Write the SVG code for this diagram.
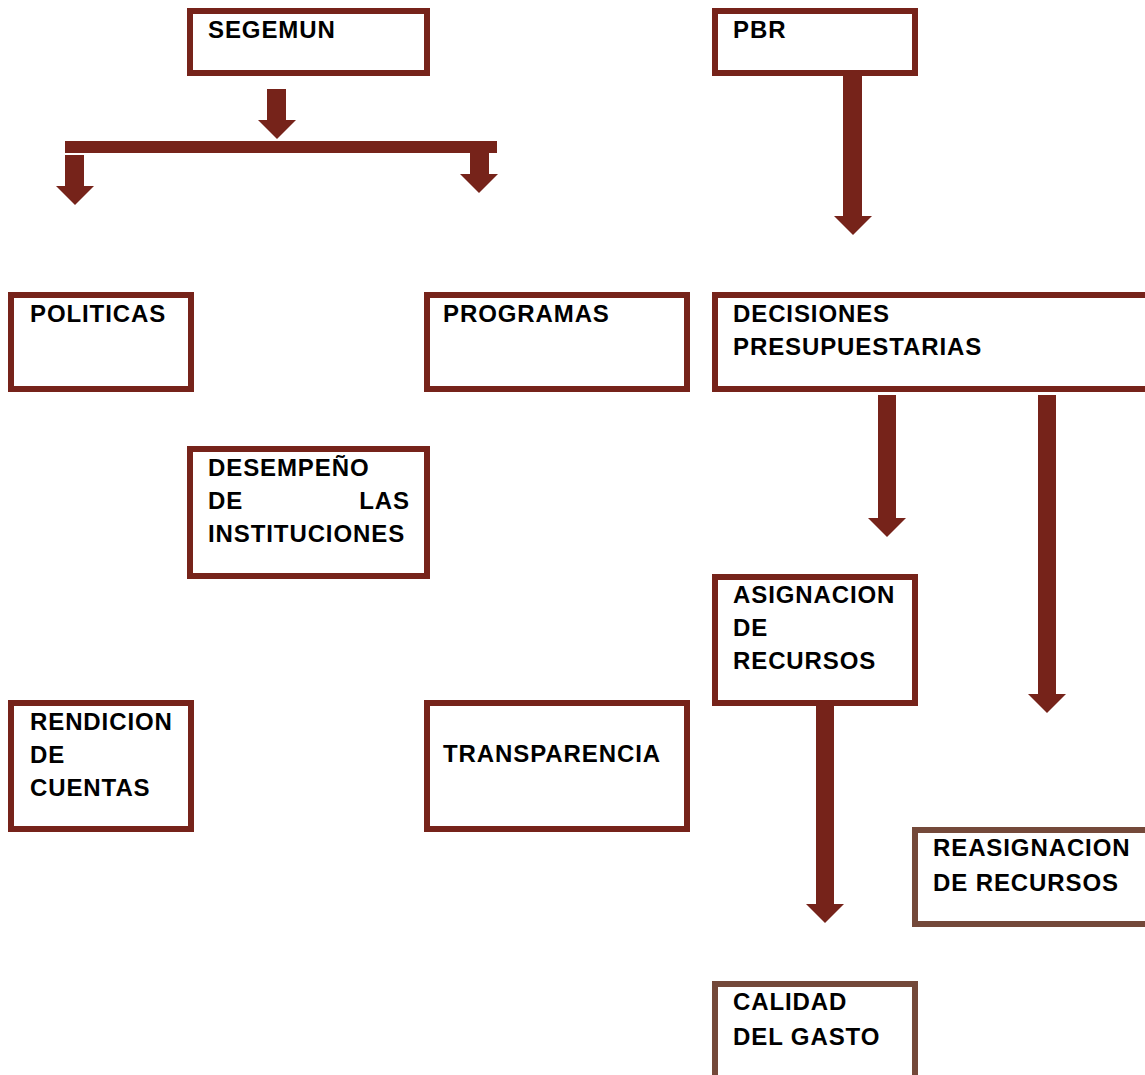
<svg xmlns="http://www.w3.org/2000/svg" width="1145" height="1075" viewBox="0 0 1145 1075">
<style>
.box{fill:#ffffff;stroke:#76231a;stroke-width:6}
.box2{fill:#ffffff;stroke:#74493a;stroke-width:6}
.arr{fill:#76231a}
.t{font-family:"Liberation Sans",Arial,sans-serif;font-weight:bold;font-size:24px;letter-spacing:0.9px;fill:#000}
</style>
<rect width="1145" height="1075" fill="#ffffff"/>
<g id="connectors">
<polygon class="arr" points="267,89 286,89 286,120 296,120 277,139 258,120 267,120"/>
<rect class="arr" x="65" y="141" width="432" height="12"/>
<polygon class="arr" points="65,155 84,155 84,186 94,186 75,205 56,186 65,186"/>
<polygon class="arr" points="470,153 489,153 489,174 498,174 479,193 460,174 470,174"/>
<polygon class="arr" points="843,76 862,76 862,216 872,216 853,235 834,216 843,216"/>
<polygon class="arr" points="878,395 896,395 896,518 906,518 887,537 868,518 878,518"/>
<polygon class="arr" points="1038,395 1056,395 1056,694 1066,694 1047,713 1028,694 1038,694"/>
<polygon class="arr" points="816,706 834,706 834,904 844,904 825,923 806,904 816,904"/>
</g>
<g id="segemun">
<rect class="box" x="190" y="11" width="237" height="62"/>
<text class="t" x="208" y="38">SEGEMUN</text>
</g>
<g id="pbr">
<rect class="box" x="715" y="11" width="200" height="62"/>
<text class="t" x="733" y="38">PBR</text>
</g>
<g id="politicas">
<rect class="box" x="11" y="295" width="180" height="94"/>
<text class="t" x="30" y="322">POLITICAS</text>
</g>
<g id="programas">
<rect class="box" x="427" y="295" width="260" height="94"/>
<text class="t" x="443" y="322">PROGRAMAS</text>
</g>
<g id="decisiones">
<rect class="box" x="715" y="295" width="440" height="94"/>
<text class="t" x="733" y="322">DECISIONES</text>
<text class="t" x="733" y="355">PRESUPUESTARIAS</text>
</g>
<g id="desempeno">
<rect class="box" x="190" y="449" width="237" height="127"/>
<text class="t" x="208" y="476">DESEMPEÑO</text>
<text class="t" x="208" y="509">DE</text>
<text class="t" x="410" y="509" text-anchor="end">LAS</text>
<text class="t" x="208" y="542">INSTITUCIONES</text>
</g>
<g id="asignacion">
<rect class="box" x="715" y="577" width="200" height="126"/>
<text class="t" x="733" y="603">ASIGNACION</text>
<text class="t" x="733" y="636">DE</text>
<text class="t" x="733" y="669">RECURSOS</text>
</g>
<g id="rendicion">
<rect class="box" x="11" y="703" width="180" height="126"/>
<text class="t" x="30" y="730">RENDICION</text>
<text class="t" x="30" y="763">DE</text>
<text class="t" x="30" y="796">CUENTAS</text>
</g>
<g id="transparencia">
<rect class="box" x="427" y="703" width="260" height="126"/>
<text class="t" x="443" y="762">TRANSPARENCIA</text>
</g>
<g id="reasignacion">
<rect class="box2" x="915" y="830" width="240" height="94"/>
<text class="t" x="933" y="856">REASIGNACION</text>
<text class="t" x="933" y="891">DE RECURSOS</text>
</g>
<g id="calidad">
<rect class="box2" x="715" y="984" width="200" height="110"/>
<text class="t" x="733" y="1010">CALIDAD</text>
<text class="t" x="733" y="1045">DEL GASTO</text>
</g>
</svg>
